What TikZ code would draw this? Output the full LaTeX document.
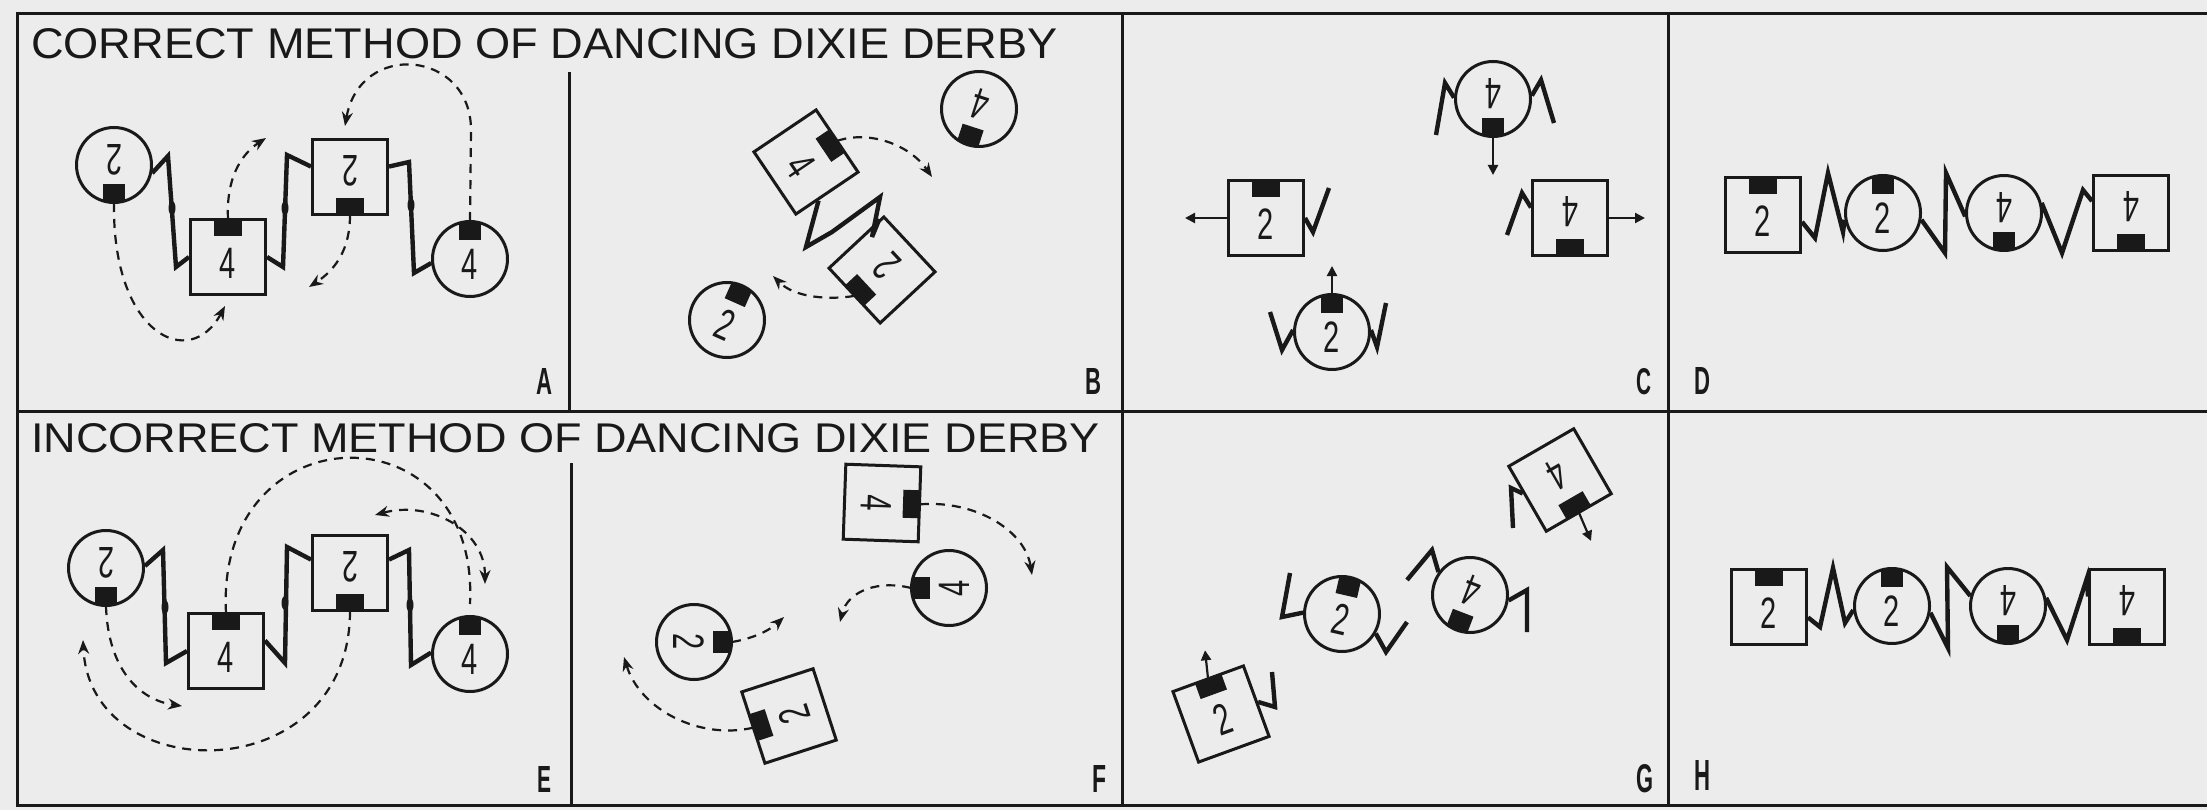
\documentclass[tikz,border=0pt]{standalone}
\usepackage{fontspec}
\setmainfont{Liberation Sans}
\setsansfont{Liberation Sans}
\usepackage{graphicx}
\usetikzlibrary{arrows.meta}
\definecolor{bg}{RGB}{236,236,236}
\definecolor{ink}{RGB}{25,25,25}
\newcommand\numtxt[1]{\scalebox{0.66}[1]{\fontsize{44}{44}\selectfont #1}}
\newcommand\ladyd[5]{%
  \begin{scope}[shift={(#2,#3)},rotate=#4]
    \node[ladyc] (#1) at (0,0) {};
    \fill[ink] (-11,-37) rectangle (11,-19);
    \node[numt,transform shape] (#1t) at (0,5) {\numtxt{#5}};
    \coordinate (#1n) at (0,-38);
  \end{scope}}
\newcommand\mand[5]{%
  \begin{scope}[shift={(#2,#3)},rotate=#4]
    \node[mansq,transform shape] (#1) at (0,0) {};
    \fill[ink] (-14,-37) rectangle (14,-21);
    \node[numt,transform shape] (#1t) at (0,6) {\numtxt{#5}};
    \coordinate (#1n) at (0,-38);
  \end{scope}}
\tikzset{
  frame/.style={line width=3pt, draw=ink},
  ladyc/.style={circle, draw=ink, line width=3pt, minimum size=75pt, inner sep=0pt},
  mansq/.style={rectangle, draw=ink, line width=3pt, minimum size=75pt, inner sep=0pt},
  numt/.style={inner sep=0pt, text=ink},
  arm/.style={draw=ink, line width=4.4pt, line join=miter, miter limit=6},
  knot/.style={fill=ink},
  mvline/.style={draw=ink, line width=2.2pt, dash pattern=on 9pt off 7pt},
  mv/.style={mvline, -{Stealth[length=14pt,width=11pt]}},
  mvboth/.style={mvline, {Stealth[length=14pt,width=11pt]}-{Stealth[length=14pt,width=11pt]}},
  face/.style={draw=ink, line width=2.2pt, -{Triangle[length=10pt,width=10pt]}},
  title/.style={anchor=south west, inner sep=0pt, text=ink},
  plabel/.style={anchor=south west, inner sep=0pt, text=ink},
}
\begin{document}
\begin{tikzpicture}[x=1pt,y=-1pt]
\useasboundingbox (0,0) rectangle (2207,810);
\fill[bg] (0,0) rectangle (2207,810);
% frame
\draw[frame] (2207,14) -- (17,14) -- (17,805) -- (2207,805);
\draw[frame] (17,411) -- (2207,411);
\draw[frame] (569,72) -- (569,411);
\draw[frame] (571,463) -- (571,805);
\draw[frame] (1122,14) -- (1122,805);
\draw[frame] (1668,14) -- (1668,805);
% titles
\node[title] (t1) at (31,59) {\resizebox{1026pt}{30pt}{CORRECT METHOD OF DANCING DIXIE DERBY}};
\node[title] (t2) at (31,453) {\resizebox{1068pt}{29pt}{INCORRECT METHOD OF DANCING DIXIE DERBY}};
% panel labels
\node[plabel] (lA) at (536,395) {\resizebox{16pt}{26pt}{\bfseries A}};
\node[plabel] (lB) at (1085,395) {\resizebox{16pt}{26pt}{\bfseries B}};
\node[plabel] (lC) at (1636,395) {\resizebox{15pt}{26pt}{\bfseries C}};
\node[plabel] (lD) at (1694,395) {\resizebox{16pt}{27pt}{\bfseries D}};
\node[plabel] (lE) at (537,793) {\resizebox{14pt}{26pt}{\bfseries E}};
\node[plabel] (lF) at (1092,793) {\resizebox{14pt}{27pt}{\bfseries F}};
\node[plabel] (lG) at (1636,793) {\resizebox{17pt}{28pt}{\bfseries G}};
\node[plabel] (lH) at (1694,791) {\resizebox{16pt}{30pt}{\bfseries H}};

% ===== Panel A =====
\ladyd{a1}{114}{165}{180}{2}
\mand{a2}{228}{257}{0}{4}
\mand{a3}{350}{177}{180}{2}
\ladyd{a4}{470}{259}{0}{4}
\draw[arm] (a1.-12) -- (168,156) -- (176,267) -- (a2.west);
\draw[arm] (a2.east) -- (283,267) -- (287,155) -- (a3.-15);
\draw[arm] (a3.195) -- (409,162) -- (414,273) -- (a4.186);
\fill[knot] (172,208) ellipse (3.5 and 7);
\fill[knot] (285,208) ellipse (3.5 and 7);
\fill[knot] (411,205) ellipse (3.5 and 7);
\coordinate (a1e) at (225,306);
\coordinate (a2e) at (266,138);
\coordinate (a3e) at (309,287);
\coordinate (a4e) at (345,126);
\draw[mv] (a1n) .. controls (112,335) and (190,372) .. (a1e);
\draw[mv] (a2n) .. controls (226,180) and (240,155) .. (a2e);
\draw[mv] (a3n) .. controls (350,250) and (335,270) .. (a3e);
\draw[mv] (a4n) -- (471,130) .. controls (471,50) and (360,40) .. (a4e);

% ===== Panel B =====
\mand{b1}{806}{162}{-56}{4}
\mand{b2}{882}{270}{133}{2}
\ladyd{b3}{979}{109}{162}{4}
\ladyd{b4}{727}{320}{-24}{2}
\draw[arm] (b1.-16) -- (806,247) -- (832,232) -- (880,197) -- (872,237) -- (b2.-40);
\coordinate (b1e) at (932,177);
\coordinate (b2e) at (773,276);
\draw[mv] (b1n) .. controls (870,130) and (910,145) .. (b1e);
\draw[mv] (b2n) .. controls (830,300) and (795,298) .. (b2e);

% ===== Panel C =====
\ladyd{c1}{1493}{99}{180}{4}
\mand{c2}{1266}{218}{0}{2}
\mand{c3}{1570}{218}{180}{4}
\ladyd{c4}{1332}{332}{0}{2}
\draw[arm] (c1.178) -- (1445,83) -- (1436,135);
\draw[arm] (c1.5) -- (1541,80) -- (1554,123);
\draw[arm] (c2.east) -- (1313,232) -- (1329,188);
\draw[arm] (c3.-15) -- (1522,193) -- (1507,235);
\draw[arm] (c4.177) -- (1282,350) -- (1270,312);
\draw[arm] (c4.3) -- (1377,347) -- (1386,303);
\draw[face] (c1n) -- ++(0,38);
\draw[face] (c2.west) -- ++(-42,0);
\draw[face] (c3.west) -- ++(36,0);
\draw[face] (c4n) -- ++(0,-28);

% ===== Panel D =====
\mand{d1}{1763}{215}{0}{2}
\ladyd{d2}{1883}{213}{0}{2}
\ladyd{d3}{2004}{213}{180}{4}
\mand{d4}{2131}{213}{180}{4}
\draw[arm] (d1.-10) -- (1815,238) -- (1828,173) -- (1843,232) -- (d2.190);
\draw[arm] (d2.-10) -- (1945,253) -- (1946,173) -- (d3.185);
\draw[arm] (d3.15) -- (2062,253) -- (2083,190) -- (d4.-17);

% ===== Panel E =====
\ladyd{e1}{106}{568}{180}{2}
\mand{e2}{226}{651}{0}{4}
\mand{e3}{350}{573}{180}{2}
\ladyd{e4}{470}{654}{0}{4}
\draw[arm] (e1.3) -- (163,550) -- (166,663) -- (e2.west);
\draw[arm] (e2.15) -- (285,663) -- (287,547) -- (e3.-19);
\draw[arm] (e3.-161) -- (409,550) -- (411,665) -- (e4.178);
\fill[knot] (165,607) ellipse (3.5 and 7);
\fill[knot] (285,603) ellipse (3.5 and 7);
\fill[knot] (410,605) ellipse (3.5 and 7);
\coordinate (e2e) at (470,604);
\coordinate (e5a) at (375,515);
\coordinate (e5b) at (485,584);
\coordinate (e3e) at (83,640);
\coordinate (e1e) at (182,706);
\draw[mvline] (e2n) .. controls (215,410) and (480,405) .. (e2e);
\draw[mvboth] (e5a) .. controls (430,500) and (485,530) .. (e5b);
\draw[mv] (e3n) .. controls (350,790) and (90,790) .. (e3e);
\draw[mv] (e1n) .. controls (108,670) and (140,700) .. (e1e);

% ===== Panel F =====
\mand{f1}{882}{503}{-92}{4}
\ladyd{f2}{949}{588}{90}{4}
\ladyd{f3}{694}{642}{-90}{2}
\mand{f4}{789}{716}{108}{2}
\coordinate (f1e) at (1032,575);
\coordinate (f2e) at (840,622);
\coordinate (f3e) at (784,617);
\coordinate (f4e) at (624,657);
\draw[mv] (f1n) .. controls (975,500) and (1025,530) .. (f1e);
\draw[mv] (f2n) .. controls (880,580) and (848,590) .. (f2e);
\draw[mv] (f3n) .. controls (755,638) and (770,630) .. (f3e);
\draw[mv] (f4n) .. controls (700,740) and (640,710) .. (f4e);

% ===== Panel G =====
\mand{g1}{1560}{480}{-150}{4}
\ladyd{g2}{1470}{595}{159}{4}
\ladyd{g3}{1342}{614}{-13}{2}
\mand{g4}{1221}{714}{20}{2}
\draw[arm] (g1.-10) -- (1511,488) -- (1513,528);
\draw[arm] (g2.144) -- (1432,550) -- (1407,580);
\draw[arm] (g2.-8) -- (1527,590) -- (1527,632);
\draw[arm] (g3.178) -- (1282,617) -- (1290,573);
\draw[arm] (g3.-30) -- (1386,652) -- (1407,622);
\draw[arm] (g4.-2) -- (1275,707) -- (1272,672);
\draw[face] (g1n) -- ++(12,28);
\draw[face] (g4n) -- ++(-3,-28);

% ===== Panel H =====
\mand{h1}{1769}{607}{0}{2}
\ladyd{h2}{1892}{606}{0}{2}
\ladyd{h3}{2008}{606}{180}{4}
\mand{h4}{2127}{607}{180}{4}
\draw[arm] (h1.-15) -- (1820,627) -- (1833,568) -- (1845,623) -- (h2.186);
\draw[arm] (h2.-10) -- (1948,648) -- (1947,567) -- (h3.165);
\draw[arm] (h3.12) -- (2067,640) -- (2087,578) -- (h4.-15);
\end{tikzpicture}
\end{document}
